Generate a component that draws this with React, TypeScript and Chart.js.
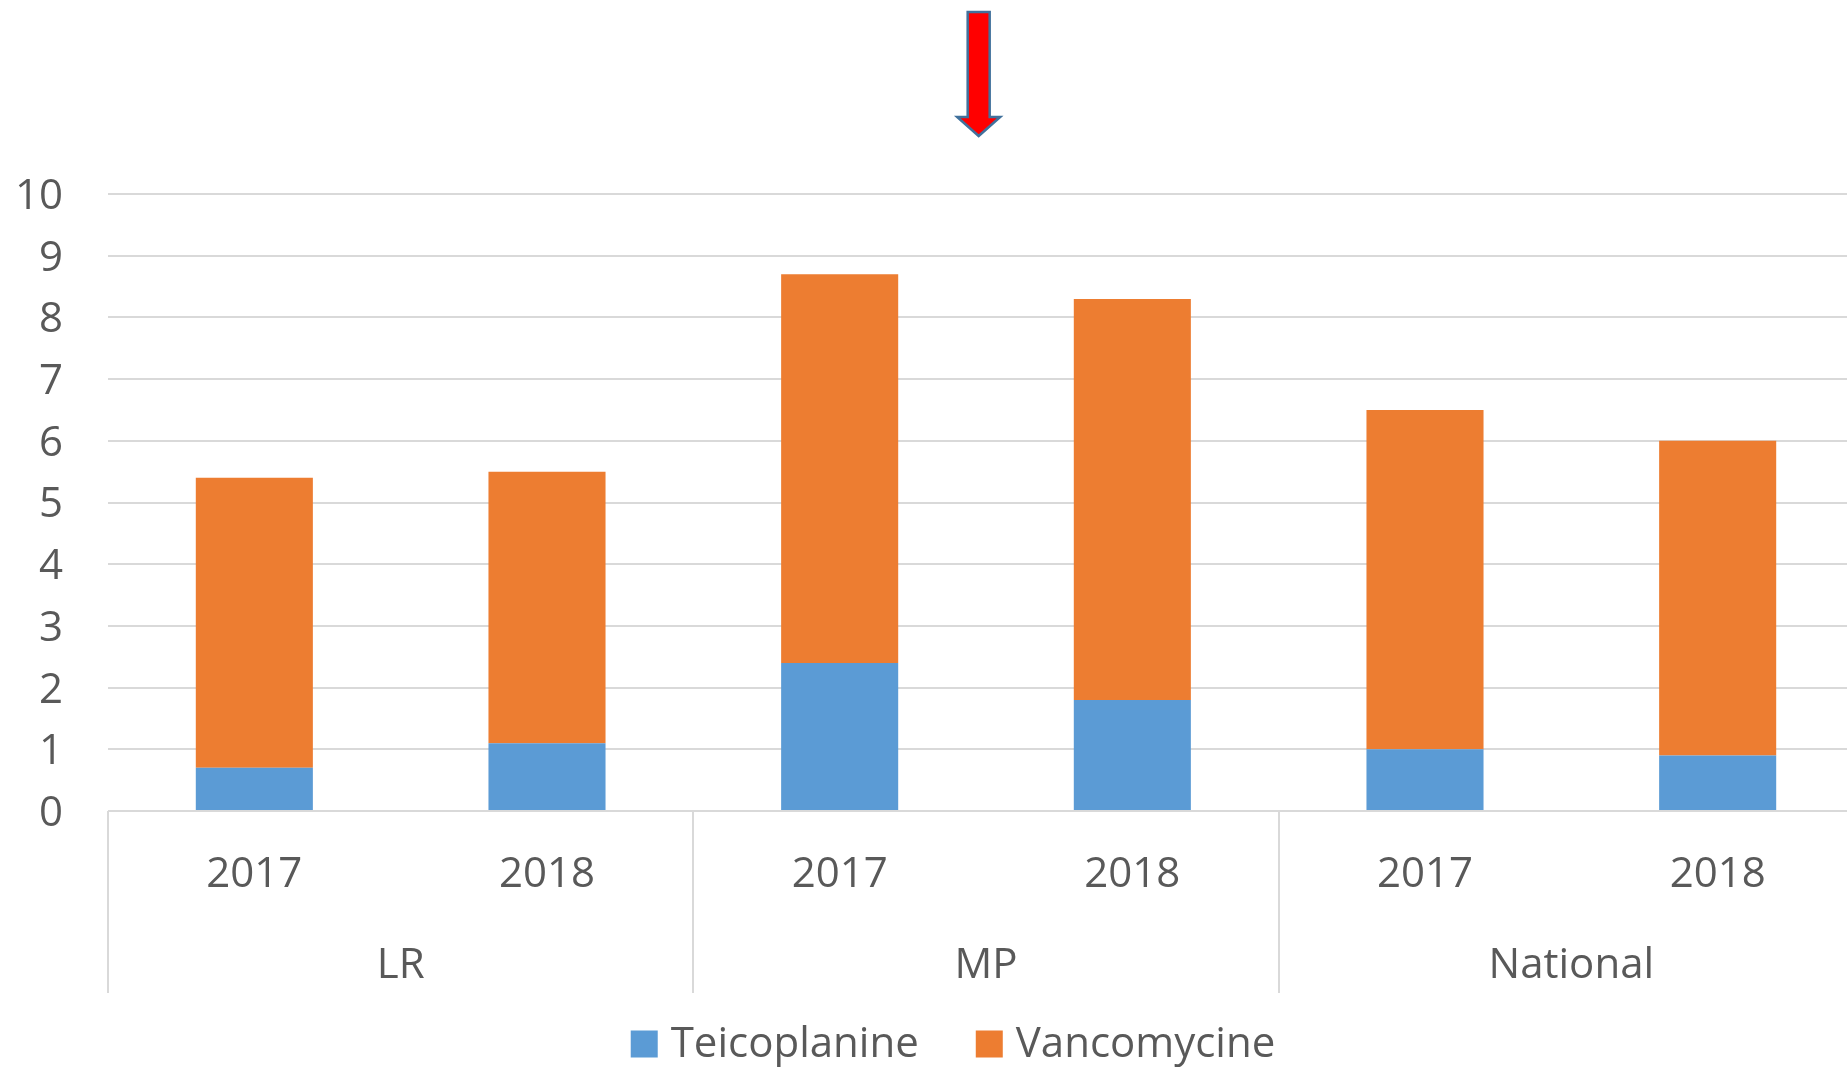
import React, { useEffect, useRef } from 'react';
import { Chart, registerables } from 'chart.js';

Chart.register(...registerables);

const categories = ['2017', '2018', '2017', '2018', '2017', '2018'];
const groups = ['LR', 'MP', 'National'];
const seriesNames = ['Teicoplanine', 'Vancomycine'];
const teicoplanine = [0.7, 1.1, 2.4, 1.8, 1.0, 0.9];
const vancomycine = [4.7, 4.4, 6.3, 6.5, 5.5, 5.1];
const seriesColors = ['#5B9BD5', '#ED7D31'];
const yMin = 0;
const yMax = 10;
const yStep = 1;

const FONT = '"Open Sans", "Noto Sans", sans-serif';
const TEXT = '#595959';
const GRID = '#D9D9D9';
const CANVAS_W = 1864;
const CANVAS_H = 1067;

const decorPlugin = {
  id: 'decor',
  afterDraw(chart: any) {
    const { ctx, chartArea, scales } = chart;
    const x = scales.x;
    const per = categories.length / groups.length;
    ctx.save();
    // group separators
    ctx.strokeStyle = GRID;
    ctx.lineWidth = 2;
    for (let g = 0; g <= groups.length; g++) {
      const px = Math.round(x.getPixelForValue(g * per - 0.5));
      ctx.beginPath();
      ctx.moveTo(px, chartArea.bottom);
      ctx.lineTo(px, 993);
      ctx.stroke();
    }
    // group labels
    ctx.fillStyle = TEXT;
    ctx.font = `42px ${FONT}`;
    ctx.textAlign = 'center';
    ctx.textBaseline = 'middle';
    groups.forEach((name, g) => {
      const l = x.getPixelForValue(g * per - 0.5);
      const r = x.getPixelForValue((g + 1) * per - 0.5);
      ctx.fillText(name, (l + r) / 2, 966);
    });
    // legend
    const box = 27;
    const gapBoxText = 13;
    const gapItems = 57;
    const widths = chart.data.datasets.map((d: any) => box + gapBoxText + ctx.measureText(d.label).width);
    const total = widths.reduce((a: number, b: number) => a + b, 0) + gapItems * (widths.length - 1);
    let lx = 953 - total / 2;
    const ly = 1045;
    ctx.textAlign = 'left';
    chart.data.datasets.forEach((d: any, i: number) => {
      ctx.fillStyle = d.backgroundColor;
      ctx.fillRect(lx, ly - box / 2 - 1, box, box);
      ctx.fillStyle = TEXT;
      ctx.fillText(d.label, lx + box + gapBoxText, ly);
      lx += widths[i] + gapItems;
    });
    // arrow annotation
    const cx = x.getPixelForValue(2.475);
    const shaftHalf = 11;
    const headHalf = 21.5;
    const top = 12;
    const headY = 117;
    const tip = 136;
    ctx.beginPath();
    ctx.moveTo(cx - shaftHalf, top);
    ctx.lineTo(cx + shaftHalf, top);
    ctx.lineTo(cx + shaftHalf, headY);
    ctx.lineTo(cx + headHalf, headY);
    ctx.lineTo(cx, tip);
    ctx.lineTo(cx - headHalf, headY);
    ctx.lineTo(cx - shaftHalf, headY);
    ctx.closePath();
    ctx.fillStyle = '#FF0000';
    ctx.fill();
    ctx.strokeStyle = '#41719C';
    ctx.lineWidth = 2.5;
    ctx.lineJoin = 'miter';
    ctx.stroke();
    ctx.restore();
  },
};

export default function App() {
  const ref = useRef<HTMLCanvasElement | null>(null);
  useEffect(() => {
    document.body.style.margin = '0';
    document.body.style.overflow = 'hidden';
    if (!ref.current) return;
    const chart = new Chart(ref.current, {
      type: 'bar',
      data: {
        labels: categories,
        datasets: [
          {
            label: seriesNames[0],
            data: teicoplanine,
            backgroundColor: seriesColors[0],
            categoryPercentage: 1,
            barPercentage: 0.4,
          },
          {
            label: seriesNames[1],
            data: vancomycine,
            backgroundColor: seriesColors[1],
            categoryPercentage: 1,
            barPercentage: 0.4,
          },
        ],
      },
      options: {
        responsive: false,
        animation: false,
        layout: { padding: { top: 194, left: 0, right: 0, bottom: 0 } },
        plugins: {
          legend: { display: false },
          tooltip: { enabled: false },
        },
        scales: {
          x: {
            stacked: true,
            grid: { display: false, drawTicks: false },
            border: { display: false },
            ticks: {
              color: TEXT,
              font: { family: FONT, size: 42 },
              padding: 39,
              maxRotation: 0,
              autoSkip: false,
            },
            afterFit: (s: any) => {
              s.height = 256;
            },
          },
          y: {
            stacked: true,
            min: yMin,
            max: yMax,
            grid: { color: GRID, lineWidth: 2, drawTicks: false },
            border: { display: false },
            ticks: {
              stepSize: yStep,
              color: TEXT,
              font: { family: FONT, size: 42 },
              padding: 45,
              labelOffset: 3,
            },
            afterFit: (s: any) => {
              s.width = 108;
            },
          },
        },
      },
      plugins: [decorPlugin],
    });
    return () => chart.destroy();
  }, []);
  return (
    <div style={{ width: 1847, height: CANVAS_H, overflow: 'hidden' }}>
      <canvas ref={ref} width={CANVAS_W} height={CANVAS_H} style={{ display: 'block' }} />
    </div>
  );
}
